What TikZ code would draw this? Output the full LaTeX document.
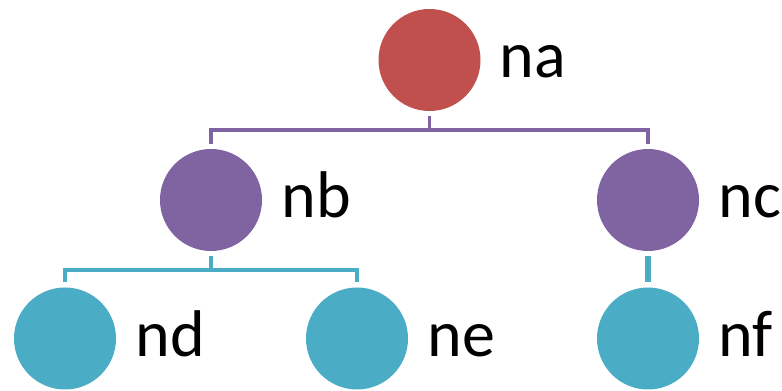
\documentclass[tikz,border=0pt]{standalone}
\usepackage{fontspec}
\setmainfont{Carlito}
\definecolor{tred}{HTML}{C0504D}
\definecolor{tpurple}{HTML}{8064A2}
\definecolor{tteal}{HTML}{4BACC6}
\begin{document}
\begin{tikzpicture}[x=1pt,y=1pt,
    dot/.style={circle,minimum size=102pt,inner sep=0pt},
    lbl/.style={anchor=base west,inner sep=0pt,font=\fontsize{66}{70}\selectfont},
    pline/.style={draw=tpurple,line width=3.5pt},
    tline/.style={draw=tteal,line width=3.5pt}]
        \useasboundingbox (0,0) rectangle (782,391);
        \node[dot,fill=tred] (na) at (429.5,331) {};
        \node[dot,fill=tpurple] (nb) at (211,191) {};
        \node[dot,fill=tpurple] (nc) at (648,191) {};
        \node[dot,fill=tteal] (nd) at (65,52.5) {};
        \node[dot,fill=tteal] (ne) at (357,52.5) {};
        \node[dot,fill=tteal] (nf) at (648,52.5) {};
        \node[lbl] (na-t) at ([xshift=19pt,yshift=-18pt]na.east) {na};
        \node[lbl] (nb-t) at ([xshift=19pt,yshift=-18pt]nb.east) {nb};
        \node[lbl] (nc-t) at ([xshift=19pt,yshift=-18pt]nc.east) {nc};
        \node[lbl] (nd-t) at ([xshift=19pt,yshift=-18pt]nd.east) {nd};
        \node[lbl] (ne-t) at ([xshift=19pt,yshift=-18pt]ne.east) {ne};
        \node[lbl] (nf-t) at ([xshift=19pt,yshift=-18pt]nf.east) {nf};
        \draw[pline] ([yshift=-5pt]na.south) -- ([yshift=-19pt]na.south);
        \draw[pline] ([yshift=5pt]nb.north) |- ([yshift=-19pt]na.south) -| ([yshift=5pt]nc.north);
        \draw[tline] ([yshift=-5pt]nb.south) -- ([yshift=-19pt]nb.south);
        \draw[tline] ([yshift=5pt]nd.north) |- ([yshift=-19pt]nb.south) -| ([yshift=5pt]ne.north);
        \draw[tline,line width=5.5pt] ([yshift=-5pt]nc.south) -- ([yshift=5pt]nf.north);
\end{tikzpicture}
\end{document}
